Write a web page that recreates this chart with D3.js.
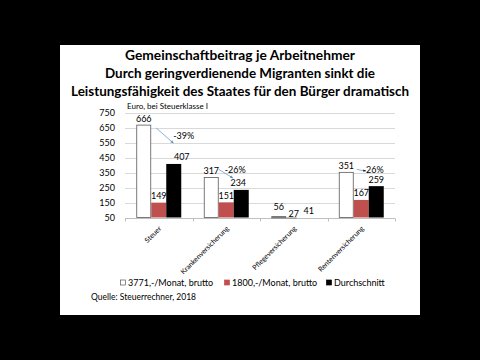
<!DOCTYPE html>
<html><head><meta charset="utf-8">
<script src="https://cdn.jsdelivr.net/npm/d3@7"></script>
<style>
html,body{margin:0;padding:0;background:#000;}
svg{display:block;}
text{font-family:Lato,"Open Sans",sans-serif;}
</style></head>
<body>
<script>
// ---- data ----
const categories = ["Steuer","Krankenversicherung","Pflegeversicherung","Rentenversicherung"];
const seriesNames = ["3771,-/Monat, brutto","1800,-/Monat, brutto","Durchschnitt"];
const high = [666, 317, 56, 351];
const low = [149, 151, 27, 167];
const avg = [407, 234, 41, 259];
const pctLabels = ["-39%", "-26%", null, "-26%"];
const yTicks = [50,150,250,350,450,550,650,750];
const titleLines = ["Gemeinschaftbeitrag je Arbeitnehmer",
  "Durch geringverdienende Migranten sinkt die",
  "Leistungsfähigkeit des Staates für den Bürger dramatisch"];
const unitLabel = "Euro, bei Steuerklasse I";
const sourceLabel = "Quelle: Steuerrechner, 2018";

// ---- layout / style ----
const colors = ["#ffffff", "#c0504d", "#000000"];
const strokes = ["#595959", "#c0504d", "#000000"];
// annotation offsets (label relative to black bar centre/top, arrow relative to bars)
const pctOff = [[10,-28],[-6,-20],[-3,-16],[-3,-16]];
const arrowStart = [[5,3],[0,-8],[0,0],[3,-3]];
const arrowEnd = [[7,-21],[-1,-12],[0,0],[-3,-15]];

const W = 480, H = 360;
const svg = d3.select("body").append("svg").attr("width", W).attr("height", H);
svg.append("rect").attr("width", W).attr("height", H).attr("fill", "#000");
svg.append("rect").attr("x", 60).attr("y", 45).attr("width", 360).attr("height", 270).attr("fill", "#fff");

// title
const titleW = [230, 270, 338];
svg.selectAll("text.title").data(titleLines).join("text")
  .attr("class","title")
  .attr("x", 240).attr("y", (d,i) => 59.5 + i*18.2)
  .attr("text-anchor","middle")
  .attr("font-size", 13).attr("font-weight", 700).attr("fill","#000")
  .attr("textLength", (d,i) => titleW[i]).attr("lengthAdjust","spacingAndGlyphs")
  .text(d => d);

const x0 = d3.scaleBand().domain(categories).range([125, 395]).padding(0);
const x1 = d3.scaleBand().domain([0,1,2]).range([11.25, 56.25]).padding(0);
const y = d3.scaleLinear().domain([50, 750]).range([217.5, 112.5]);

// gridlines
svg.append("g").selectAll("line").data(yTicks.slice(1)).join("line")
  .attr("x1", 125).attr("x2", 395)
  .attr("y1", d => Math.round(y(d)) + 0.5).attr("y2", d => Math.round(y(d)) + 0.5)
  .attr("stroke", "#d9d9d9").attr("stroke-width", 1);

// y axis labels
const yAxis = d3.axisLeft(y).tickValues(yTicks).tickSize(0).tickPadding(0);
const gy = svg.append("g").attr("transform", "translate(115,0)").call(yAxis);
gy.select(".domain").remove();
gy.selectAll("text").attr("font-size", 9).attr("fill", "#000").attr("font-family","Lato,sans-serif");

// x axis line + ticks at boundaries
const xAxisY = Math.round(y(50)) + 0.5;
svg.append("line").attr("x1",125).attr("x2",395).attr("y1",xAxisY).attr("y2",xAxisY)
  .attr("stroke","#bfbfbf");
const bounds = categories.map(c => x0(c)).concat([x0.range()[1]]);
svg.append("g").selectAll("line").data(bounds).join("line")
  .attr("x1", d => Math.round(d)+0.5).attr("x2", d => Math.round(d)+0.5)
  .attr("y1", xAxisY).attr("y2", xAxisY+3).attr("stroke","#bfbfbf");

// bars
const series = [high, low, avg];
const barData = [];
categories.forEach((c, ci) => series.forEach((s, si) => barData.push({c, ci, si, v: s[ci]})));
svg.append("g").selectAll("rect").data(barData).join("rect")
  .attr("x", d => x0(d.c) + x1(d.si) + (d.si===0 ? 0.5 : 0))
  .attr("y", d => y(Math.max(d.v, 50)))
  .attr("width", d => x1.bandwidth() - (d.si===0 ? 1 : 0))
  .attr("height", d => Math.max(0, y(50) - y(Math.max(d.v, 50))))
  .attr("fill", d => colors[d.si])
  .attr("stroke", d => d.si===0 ? strokes[0] : "none")
  .attr("stroke-width", 0.8);
// tiny stubs for Pflege (values near baseline)
svg.append("line")
  .attr("x1", x0(categories[2]) + x1(0)).attr("x2", x0(categories[2]) + x1(1) + x1.bandwidth()*0.7)
  .attr("y1", xAxisY-0.5).attr("y2", xAxisY-0.5).attr("stroke", "#808080").attr("stroke-width", 1);

// value labels
svg.append("g").selectAll("text").data(barData).join("text")
  .attr("x", d => x0(d.c) + x1(d.si) + x1.bandwidth()/2 + (d.si===2 && d.ci===0 ? 8 : 0) + (d.si===2 && d.ci===1 ? -3 : 0))
  .attr("y", d => y(Math.max(d.v, 50)) - (d.ci===2 ? (d.si===0 ? 7 : (d.si===1 ? 1 : 4)) : 3.5))
  .attr("text-anchor","middle").attr("font-size", 9).attr("fill","#000")
  .text(d => d.v);

// percent annotations with arrows
svg.append("defs").append("marker").attr("id","ah").attr("viewBox","0 0 6 6")
  .attr("refX",5).attr("refY",3).attr("markerWidth",5).attr("markerHeight",5).attr("orient","auto")
  .append("path").attr("d","M0,0.5 L6,3 L0,5.5 Z").attr("fill","#5b8fc7");
categories.forEach((c, ci) => {
  if (!pctLabels[ci]) return;
  const bx = x0(c) + x1(2), bTop = y(avg[ci]);
  const wRight = x0(c) + x1(0) + x1.bandwidth(), wTop = y(high[ci]);
  svg.append("line")
    .attr("x1", wRight + arrowStart[ci][0]).attr("y1", wTop + arrowStart[ci][1])
    .attr("x2", bx + arrowEnd[ci][0]).attr("y2", bTop + arrowEnd[ci][1])
    .attr("stroke","#5b8fc7").attr("stroke-width",0.7).attr("marker-end","url(#ah)");
  svg.append("text")
    .attr("x", bx + x1.bandwidth()/2 + pctOff[ci][0]).attr("y", bTop + pctOff[ci][1] + 3)
    .attr("text-anchor","middle").attr("font-size", 9).attr("fill","#000")
    .text(pctLabels[ci]);
});

// unit label
svg.append("text").attr("x", 127).attr("y", 108.5).attr("font-size", 8).attr("fill","#000").text(unitLabel);

// category labels rotated
svg.append("g").selectAll("text").data(categories).join("text")
  .attr("transform", d => `translate(${x0(d) + x0.bandwidth()/2 + 3},${229}) rotate(-45)`)
  .attr("text-anchor","end").attr("font-size", 7).attr("fill","#000")
  .text(d => d);

// legend
const legX = [120, 224, 326];
const lg = svg.append("g").selectAll("g").data(seriesNames).join("g")
  .attr("transform", (d,i) => `translate(${legX[i]},283)`);
lg.append("rect").attr("x",0.5).attr("y",-3).attr("width",5).attr("height",5)
  .attr("fill",(d,i)=>colors[i]).attr("stroke",(d,i)=>i===0?"#595959":colors[i]).attr("stroke-width",0.7);
lg.append("text").attr("x",8).attr("y",3.2).attr("font-size",9).attr("fill","#000").text(d=>d);

// source
svg.append("text").attr("x", 91).attr("y", 300).attr("font-size", 8.5).attr("fill","#000").text(sourceLabel);
</script>
</body></html>
